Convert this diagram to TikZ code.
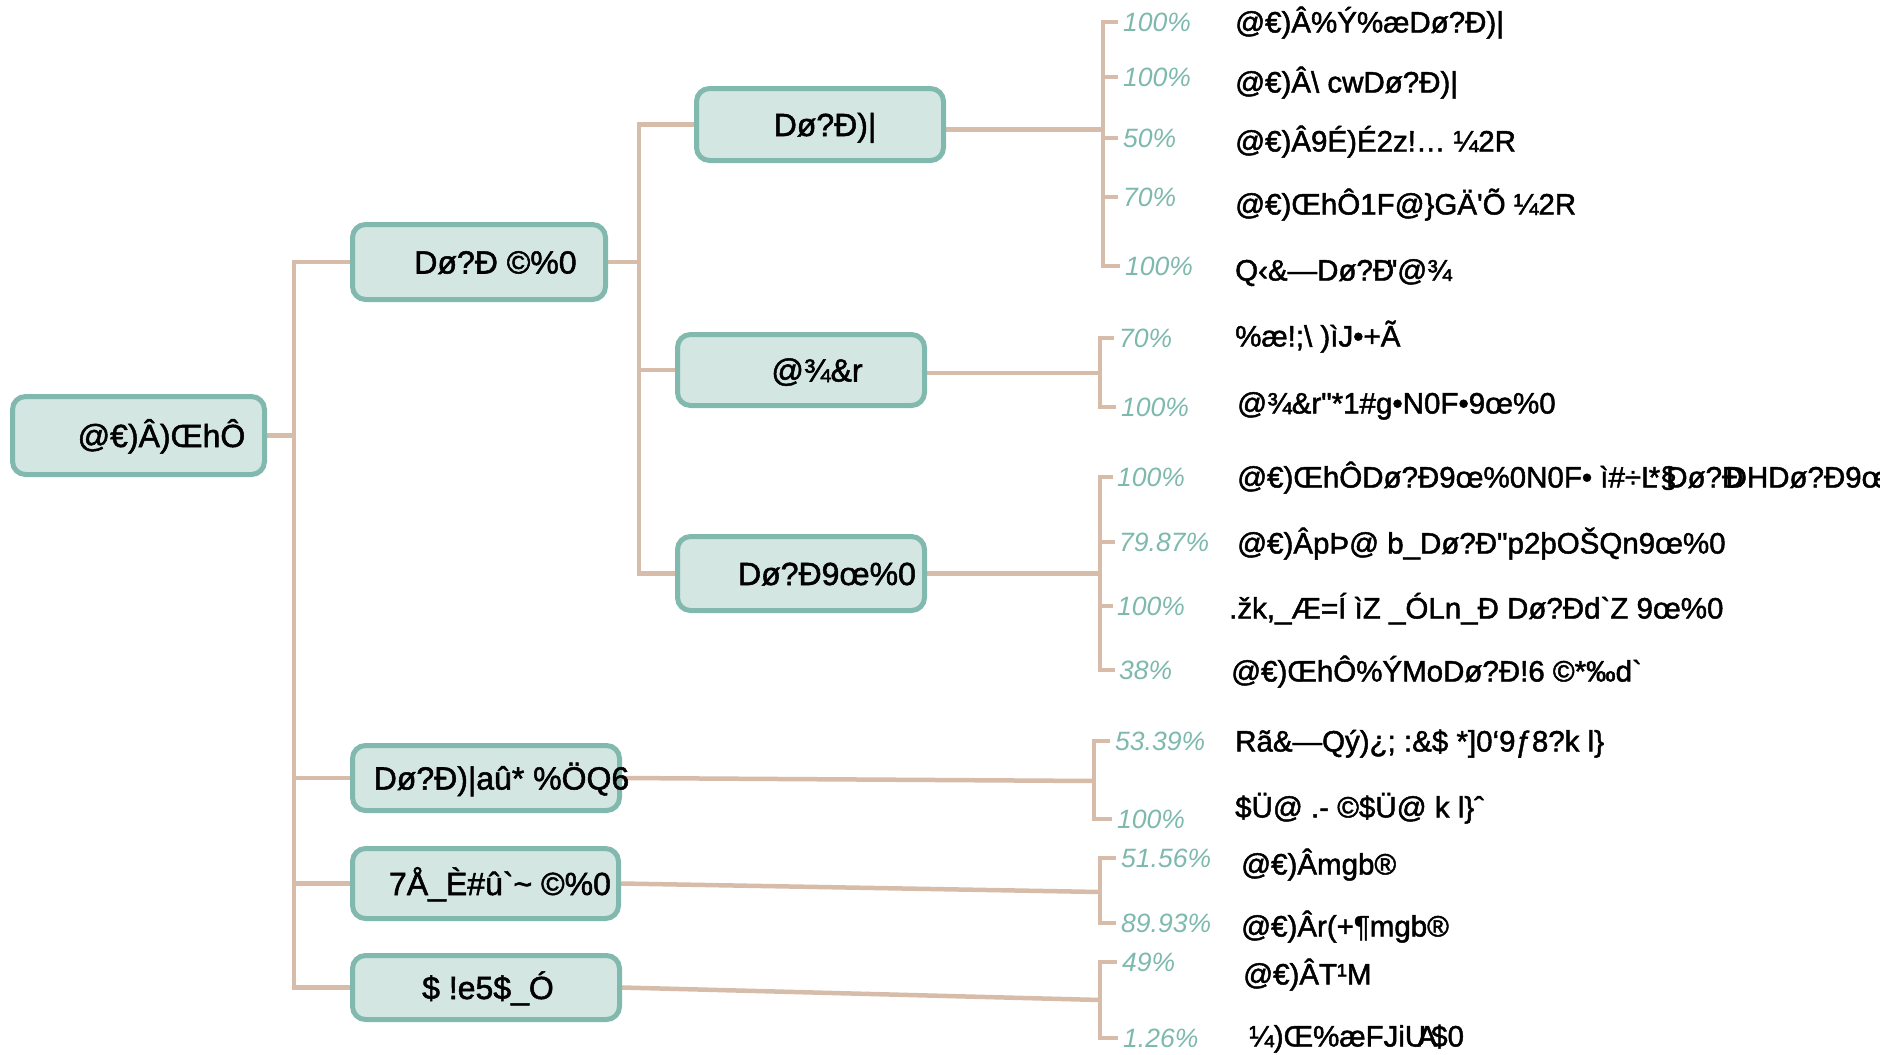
\documentclass[tikz,border=0pt]{standalone}
\usepackage{fontspec}
\setmainfont{Liberation Sans}[Ligatures=TeXOff]
\newfontfamily\heavy{Liberation Sans}[Ligatures=TeXOff, FakeBold=1.6]
\definecolor{nodefill}{HTML}{D3E6E2}
\definecolor{nodeedge}{HTML}{82B9AE}
\definecolor{conn}{HTML}{D6BCA9}
\definecolor{pctc}{HTML}{7DB9AD}
\pgfdeclarelayer{bg}
\pgfsetlayers{bg,main}
\begin{document}
\begin{tikzpicture}[x=1pt,y=-1pt,
  box/.style={draw=nodeedge, line width=5pt, fill=nodefill, rounded corners=13pt, inner sep=0pt},
  wire/.style={draw=conn, line width=4.5pt},
  ntext/.style={font=\heavy\fontsize{32}{34}\selectfont, text=black, inner sep=0pt, text height=23pt, text depth=0pt},
  pct/.style={font=\fontsize{26.5}{28}\selectfont\itshape, text=pctc, anchor=west, inner sep=0pt, text height=19pt, text depth=0pt},
  lab/.style={font=\heavy\fontsize{29.5}{31}\selectfont, text=black, anchor=west, inner sep=0pt, text height=21pt, text depth=0pt}]
\useasboundingbox (0,0) rectangle (1880,1055);
\begin{pgfonlayer}{bg}
\fill[white] (0,0) rectangle (1880,1055);
\end{pgfonlayer}

% boxes
\node[box, minimum width=252, minimum height=78] (root) at (138.5,435.5) {};
\node[box, minimum width=253, minimum height=75] (A) at (479,262) {};
\node[box, minimum width=267, minimum height=65] (B) at (486,778) {};
\node[box, minimum width=266, minimum height=70] (C) at (485.5,883.5) {};
\node[box, minimum width=267, minimum height=64] (D) at (486,987.5) {};
\node[box, minimum width=247, minimum height=72] (A1) at (820,124.5) {};
\node[box, minimum width=247, minimum height=71] (A2) at (801,370) {};
\node[box, minimum width=247, minimum height=74] (A3) at (801,573.5) {};

% box texts
\node[ntext, xshift=23pt] (rootT) at (root.center) {@€)Â)ŒhÔ};
\node[ntext, xshift=16.5pt] (AT) at (A.center) {Dø?Ð ©\%0};
\node[ntext, xshift=15.5pt] (BT) at (B.center) {Dø?Ð)|aû* \%ÖQ6};
\node[ntext, xshift=14.5pt] (CT) at (C.center) {7Å\_È\#û`\textasciitilde{} ©\%0};
\node[ntext, xshift=2pt] (DT) at (D.center) {\$ !e5\$\_Ó};
\node[ntext, xshift=5pt] (A1T) at (A1.center) {Dø?Ð)|};
\node[ntext, xshift=16pt] (A2T) at (A2.center) {@¾\&r};
\node[ntext, xshift=26pt] (A3T) at (A3.center) {Dø?Ð9œ\%0};

% percentages
\node[pct] (p11) at (1123,22) {100\%};
\node[pct] (p12) at (1123,77) {100\%};
\node[pct] (p13) at (1123,138) {50\%};
\node[pct] (p14) at (1123,197) {70\%};
\node[pct] (p15) at (1125,266) {100\%};
\node[pct] (p21) at (1119,338) {70\%};
\node[pct] (p22) at (1121,407) {100\%};
\node[pct] (p31) at (1117,477) {100\%};
\node[pct] (p32) at (1119,542) {79.87\%};
\node[pct] (p33) at (1117,606) {100\%};
\node[pct] (p34) at (1119,670) {38\%};
\node[pct] (p41) at (1115,741) {53.39\%};
\node[pct] (p42) at (1117,819) {100\%};
\node[pct] (p51) at (1121,858) {51.56\%};
\node[pct] (p52) at (1121,923) {89.93\%};
\node[pct] (p61) at (1122,962) {49\%};
\node[pct] (p62) at (1123,1038) {1.26\%};

% labels
\node[lab] (l11) at (1235,22) {@€)Â\%Ý\%æDø?Ð)|};
\node[lab] (l12) at (1235,82) {@€)Â\textbackslash{} cwDø?Ð)|};
\node[lab] (l13) at (1235,141) {@€)Â9É)É2z!… ¼2R};
\node[lab] (l14) at (1235,204) {@€)ŒhÔ1F@\}GÄ'Õ ¼2R};
\node[lab] (l15) at (1235,270) {Q‹\&—Dø?Ð\hspace{-0.25em}"@¾};
\node[lab] (l21) at (1235,336) {\%æ!;\textbackslash{} )ìJ•+Ã};
\node[lab] (l22) at (1237,403) {@¾\&r"*1\#g•N0F•9œ\%0};
\node[lab] (l31) at (1237,477) {@€)ŒhÔDø?Ð9œ\%0N0F• ì\#÷L\hspace{-0.3em}*§\hspace{-0.35em}Dø?Ð\hspace{-0.6em}ÐHDø?Ð9œ\%0};
\node[lab] (l32) at (1237,543) {@€)ÂpÞ@ b\_Dø?Ð"p2þOŠQn9œ\%0};
\node[lab] (l33) at (1229,608) {.žk,\_Æ=Í ìZ \_ÓLn\_Ð Dø?Ðd`Z 9œ\%0};
\node[lab] (l34) at (1231,671) {@€)ŒhÔ\%ÝMoDø?Ð!6 ©*‰d`};
\node[lab] (l41) at (1235,741) {Rã\&—Qý)¿; :\&\$ *]0‘9ƒ8?k l\}};
\node[lab] (l42) at (1235,807) {\$Ü@ .- ©\$Ü@ k l\}ˆ};
\node[lab] (l51) at (1241,864) {@€)Âmgb®};
\node[lab] (l52) at (1241,926) {@€)Âr(+¶mgb®};
\node[lab] (l61) at (1243,974) {@€)ÂT¹M};
\node[lab] (l62) at (1249,1036) {¼)Œ\%æFJiU\hspace{-0.3em}A\hspace{-0.2em}\$0};

% helper coordinates
\coordinate (tr) at (294,0);
\coordinate (sA) at (639,0);
\coordinate (v1) at (1103,0);
\coordinate (v2) at (1100,0);
\coordinate (v3) at (1100,0);
\coordinate (v4) at (1094,0);
\coordinate (v5) at (1100,0);
\coordinate (v6) at (1100,0);
\coordinate (a1o) at ([yshift=-5pt]A1.east);
\coordinate (a2o) at ([yshift=-3pt]A2.east);
\coordinate (bEnd) at (1094,781);
\coordinate (cEnd) at (1100,892);
\coordinate (dEnd) at (1100,1000);

\begin{pgfonlayer}{bg}
% trunk
\draw[wire] (root.east) -- (root.east -| tr);
\draw[wire] (A.west) -- (A.west -| tr) -- (D.west -| tr) -- (D.west);
\draw[wire] (B.west -| tr) -- (B.west);
\draw[wire] (C.west -| tr) -- (C.west);
% sub trunk
\draw[wire] (A.east) -- (A.east -| sA);
\draw[wire] (A1.west) -- (A1.west -| sA) -- (A3.west -| sA) -- (A3.west);
\draw[wire] (A2.west -| sA) -- (A2.west);
% to brackets
\draw[wire] (a1o) -- (a1o -| v1);
\draw[wire] (a2o) -- (a2o -| v2);
\draw[wire] (A3.east) -- (A3.east -| v3);
\draw[wire] (B.east) -- (bEnd);
\draw[wire] (C.east) -- (cEnd);
\draw[wire] (D.east) -- (dEnd);
% brackets
\draw[wire] ([xshift=-5pt]p11.west) -- (p11.west -| v1) -- (p15.west -| v1) -- ([xshift=-5pt]p15.west);
\draw[wire] (p12.west -| v1) -- ([xshift=-5pt]p12.west);
\draw[wire] (p13.west -| v1) -- ([xshift=-5pt]p13.west);
\draw[wire] (p14.west -| v1) -- ([xshift=-5pt]p14.west);
\draw[wire] ([xshift=-5pt]p21.west) -- (p21.west -| v2) -- (p22.west -| v2) -- ([xshift=-5pt]p22.west);
\draw[wire] ([xshift=-4pt]p31.west) -- (p31.west -| v3) -- (p34.west -| v3) -- ([xshift=-4pt]p34.west);
\draw[wire] (p32.west -| v3) -- ([xshift=-4pt]p32.west);
\draw[wire] (p33.west -| v3) -- ([xshift=-4pt]p33.west);
\draw[wire] ([xshift=-5pt]p41.west) -- (p41.west -| v4) -- (p42.west -| v4) -- ([xshift=-5pt]p42.west);
\draw[wire] ([xshift=-5pt]p51.west) -- (p51.west -| v5) -- (p52.west -| v5) -- ([xshift=-5pt]p52.west);
\draw[wire] ([xshift=-5pt]p61.west) -- (p61.west -| v6) -- (p62.west -| v6) -- ([xshift=-5pt]p62.west);
\end{pgfonlayer}
\end{tikzpicture}
\end{document}
